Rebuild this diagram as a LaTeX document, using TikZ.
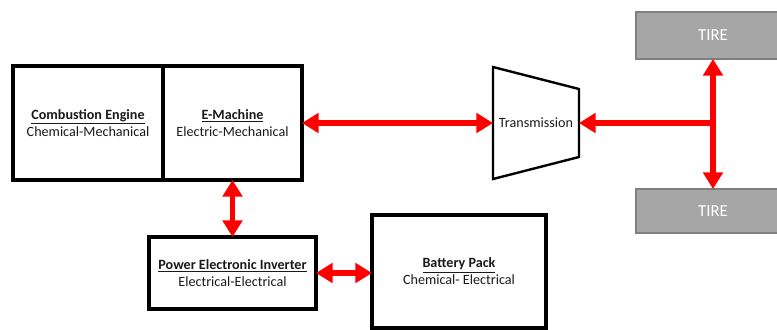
\documentclass[tikz,border=0pt]{standalone}
\usepackage{fontspec}
\setmainfont{Carlito}
\usetikzlibrary{arrows.meta, positioning, calc}
\definecolor{flow}{HTML}{FF0000}
\definecolor{tirec}{HTML}{A6A6A6}
\definecolor{tireline}{HTML}{7F7F7F}
\definecolor{ink}{HTML}{1A1A1A}
\tikzset{
  unit/.style={draw=black, line width=2.6pt, fill=white, align=center, text=ink,
               font=\fontsize{10.6}{12.8}\selectfont, inner sep=0pt, outer sep=0pt},
  gear/.style={draw=black, line width=1.8pt, line join=miter},
  tire/.style={draw=tireline, fill=tirec, line width=1.5pt, text=white,
               font=\fontsize{12.6}{14}\selectfont, minimum width=115.5pt, inner sep=0pt, outer sep=0pt},
  link/.style={{Triangle[length=12.5pt,width=14.5pt]}-{Triangle[length=12.5pt,width=14.5pt]}, draw=flow, line width=4.3pt},
  feed/.style={-{Triangle[length=12.5pt,width=14.5pt]}, draw=flow, line width=4.3pt},
}
\newcommand{\ttlu}[1]{\underline{\textbf{#1}}}

\begin{document}
\begin{tikzpicture}[x=0.75pt, y=-0.75pt]
\useasboundingbox (0,0) rectangle (777,329);
\clip (0,0) rectangle (777,329);
% the machines
\node[unit, minimum width=112.5pt, minimum height=85.5pt] (comb) at (88,123) {\ttlu{Combustion Engine}\\Chemical-Mechanical};
\node[unit, minimum width=104.25pt, minimum height=85.5pt, right=0pt of comb] (emach) {\ttlu{E-Machine}\\Electric-Mechanical};
\node[unit, minimum width=125.25pt, minimum height=54pt] (inv) at (232.5,273) {\ttlu{Power Electronic Inverter}\\Electrical-Electrical};
\node[unit, minimum width=130.5pt, minimum height=84.75pt] (batt) at (459,271.5) {\ttlu{Battery Pack}\\Chemical- Electrical};
% the transmission, a trapezoid round its node
\node[font=\fontsize{10.6}{12.8}\selectfont, text=ink, minimum width=64.5pt, minimum height=84pt, inner sep=0pt, outer sep=0pt] (trans) at (536,123) {Transmission};
\draw[gear] (trans.north west) -- ($(trans.north east)+(0,22)$) -- ($(trans.south east)+(0,-22)$) -- (trans.south west) -- cycle;
% the tires
\node[tire, minimum height=35.25pt] (tireA) at (713,35.5) {TIRE};
\node[tire, minimum height=33pt] (tireB) at (713,211) {TIRE};
\coordinate (jn) at (tireA.south |- trans.east);
% power flow
\draw[link] (emach.east) -- (trans.west);
\draw[link] (emach.south) -- (inv.north);
\draw[link] (inv.east) -- (inv.east -| batt.west);
\draw[link] (tireA.south) -- (tireB.north);
\draw[feed] (jn) -- (trans.east);
\end{tikzpicture}
\end{document}
